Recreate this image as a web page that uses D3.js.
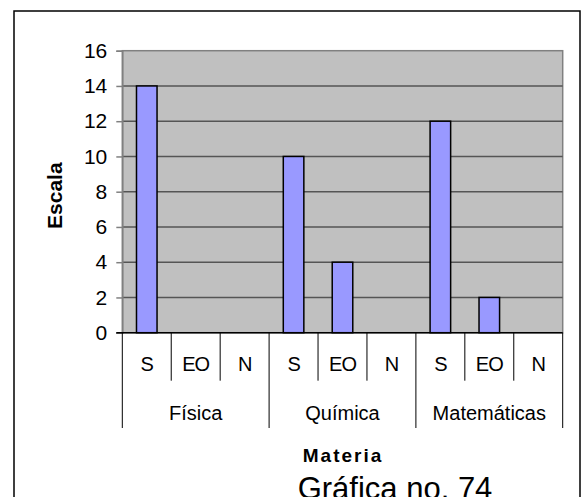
<!DOCTYPE html>
<html lang="es">
<head>
<meta charset="utf-8">
<title>Gráfica no. 74</title>
<script src="https://cdn.jsdelivr.net/npm/d3@7"></script>
<style>
  body { margin: 0; background: #fff; }
  text { font-family: Arial, "Liberation Sans", sans-serif; fill: #000; }
</style>
</head>
<body>
<script>
// datos de la grafica
var materias = ["Física", "Química", "Matemáticas"];
var respuestas = ["S", "EO", "N"];
var fisica = [14, 0, 0];
var quimica = [10, 4, 0];
var matematicas = [12, 2, 0];
var yTicks = [0, 2, 4, 6, 8, 10, 12, 14, 16];

var w = 581, h = 497;
var plotLeft = 122.3, plotRight = 562.7, plotTop = 50.7, plotBottom = 332.7;

var svg = d3.select("body").append("svg")
  .attr("width", w)
  .attr("height", h);

// marco exterior
svg.append("rect")
  .attr("x", 14).attr("y", 11)
  .attr("width", 566).attr("height", 500)
  .attr("fill", "none").attr("stroke", "#000").attr("stroke-width", 1.5);

// juntar los datos en una lista
var valores = [fisica, quimica, matematicas];
var data = [];
materias.forEach(function(m, i) {
  respuestas.forEach(function(r, j) {
    data.push({ key: m + "|" + r, materia: m, resp: r, value: valores[i][j] });
  });
});

var x = d3.scaleBand()
  .domain(data.map(function(d) { return d.key; }))
  .range([plotLeft, plotRight])
  .padding(0);

var xGroup = d3.scaleBand()
  .domain(materias)
  .range([plotLeft, plotRight])
  .padding(0);

var y = d3.scaleLinear()
  .domain([0, 16])
  .range([plotBottom, plotTop]);

// fondo del area
svg.append("rect")
  .attr("x", plotLeft).attr("y", plotTop)
  .attr("width", plotRight - plotLeft).attr("height", plotBottom - plotTop)
  .attr("fill", "#c0c0c0").attr("stroke", "#808080").attr("stroke-width", 1.5);

// lineas de la cuadricula
svg.selectAll(".grid")
  .data(yTicks.filter(function(t) { return t > 0 && t < 16; }))
  .enter().append("line")
  .attr("x1", plotLeft).attr("x2", plotRight)
  .attr("y1", function(d) { return y(d); })
  .attr("y2", function(d) { return y(d); })
  .attr("stroke", "#555").attr("stroke-width", 1.5);

// eje y
var yAxis = svg.append("g")
  .attr("transform", "translate(" + plotLeft + ",0)")
  .call(d3.axisLeft(y).tickValues(yTicks).tickSize(6).tickPadding(9));
yAxis.select(".domain").attr("stroke", "#808080").attr("stroke-width", 1.5);
yAxis.selectAll(".tick line").attr("stroke", "#808080").attr("stroke-width", 1.5);
yAxis.selectAll(".tick text")
  .style("font-family", "Arial, 'Liberation Sans', sans-serif")
  .style("font-size", "21px")
  .attr("fill", "#000");

// barras
var bw = x.bandwidth() * 0.42;
svg.selectAll(".bar")
  .data(data.filter(function(d) { return d.value > 0; }))
  .enter().append("rect")
  .attr("class", "bar")
  .attr("x", function(d) { return x(d.key) + x.bandwidth() / 2 - bw / 2; })
  .attr("y", function(d) { return y(d.value); })
  .attr("width", bw)
  .attr("height", function(d) { return y(0) - y(d.value); })
  .attr("fill", "#9999ff")
  .attr("stroke", "#000").attr("stroke-width", 1.5);

// eje x
svg.append("line")
  .attr("x1", plotLeft - 6).attr("x2", plotRight)
  .attr("y1", y(0)).attr("y2", y(0))
  .attr("stroke", "#000").attr("stroke-width", 1.5);

// separadores de respuestas
svg.selectAll(".sub")
  .data(data)
  .enter().append("line")
  .attr("x1", function(d) { return x(d.key); })
  .attr("x2", function(d) { return x(d.key); })
  .attr("y1", y(0))
  .attr("y2", function(d) { return d.resp === "S" ? 428 : 380.7; })
  .attr("stroke", "#000").attr("stroke-width", 1);

svg.append("line")
  .attr("x1", plotRight).attr("x2", plotRight)
  .attr("y1", y(0)).attr("y2", 428)
  .attr("stroke", "#000").attr("stroke-width", 1);

// etiquetas S EO N
svg.selectAll(".resp")
  .data(data)
  .enter().append("text")
  .attr("x", function(d) { return x(d.key) + x.bandwidth() / 2; })
  .attr("y", 371)
  .attr("text-anchor", "middle")
  .style("font-size", "20px")
  .style("letter-spacing", "-1px")
  .text(function(d) { return d.resp; });

// etiquetas de materia
svg.selectAll(".mat")
  .data(materias)
  .enter().append("text")
  .attr("x", function(d) { return xGroup(d) + xGroup.bandwidth() / 2; })
  .attr("y", 420)
  .attr("text-anchor", "middle")
  .style("font-size", "20px")
  .text(function(d) { return d; });

// titulo eje y
svg.append("text")
  .attr("transform", "translate(62," + ((plotTop + plotBottom) / 2 + 4) + ") rotate(-90)")
  .attr("text-anchor", "middle")
  .style("font-size", "21px")
  .style("font-weight", "bold")
  .text("Escala");

// titulo eje x
svg.append("text")
  .attr("x", 343).attr("y", 462)
  .attr("text-anchor", "middle")
  .style("font-size", "19px")
  .style("font-weight", "bold")
  .style("letter-spacing", "2px")
  .text("Materia");

svg.append("text")
  .attr("x", 395).attr("y", 499)
  .attr("text-anchor", "middle")
  .style("font-size", "31px")
  .text("Gráfica no. 74");
</script>
</body>
</html>
